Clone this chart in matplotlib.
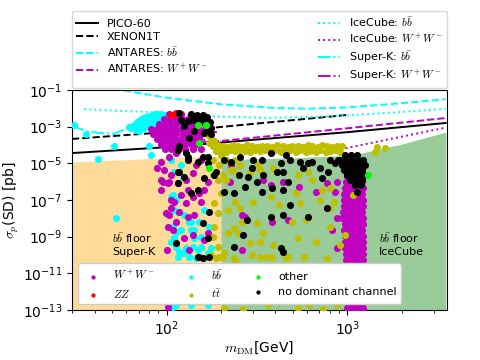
import matplotlib
matplotlib.use("Agg")
import matplotlib.pyplot as plt
import numpy as np

plt.rcParams["mathtext.fontset"] = "cm"

# ---- experimental limits: (mass GeV, log10 sigma_SD / pb) ----
PICO60 = [(30, -4.44), (100, -4.12), (300, -3.72), (1000, -3.3), (3500, -2.8)]
XENON1T = [(30, -3.67), (100, -3.3), (300, -2.85), (1000, -2.36)]
ANTARES_BB = [(45, -0.8), (60, -1.05), (100, -1.42), (200, -1.78), (400, -1.98),
              (600, -2.02), (1000, -1.95), (2000, -1.72), (3500, -1.5)]
ANTARES_WW = [(120, -3.9), (200, -3.78), (291, -3.62), (1040, -3.07), (3500, -2.53)]
ICECUBE_BB = [(35, -2.05), (50, -2.12), (80, -2.2), (130, -2.35), (200, -2.45),
              (350, -2.52), (600, -2.48), (1000, -2.38), (2000, -2.2), (3500, -2.03)]
ICECUBE_WW = [(160, -3.7), (200, -4.15), (250, -4.27), (850, -4.3), (3500, -3.05)]
SUPERK_BB = [(30, -2.96), (36, -3.24), (43, -3.35), (51, -3.4), (59, -3.13), (68, -2.8)]
SUPERK_WW = [(80, -3.1), (150, -3.2), (190, -3.3)]

# ---- bb floors ----
SK_FLOOR = [(30, -4.92), (60, -4.8), (100, -4.7), (200, -4.62)]
IC_FLOOR = [(200, -4.8), (500, -4.7), (1070, -4.55), (1400, -4.29), (2000, -3.95), (3500, -3.3)]

# ---- scan points: (mass GeV, log10 sigma) ----
WW_PTS = [
    (102.6, -2.31), (110.7, -2.31), (119.5, -2.31),
    (96.2, -2.58), (103.9, -2.58), (112.1, -2.58), (121, -2.58), (130.6, -2.58),
    (90.3, -2.85), (97.5, -2.85), (105.2, -2.85), (113.5, -2.85), (122.6, -2.85),
    (132.3, -2.85), (142.8, -2.85),
    (81.6, -3.13), (88, -3.13), (95, -3.13), (102.6, -3.13), (110.7, -3.13), (119.5, -3.13),
    (129, -3.13), (139.2, -3.13), (150.3, -3.13), (162.3, -3.13),
    (83.7, -3.4), (90.3, -3.4), (97.5, -3.4), (105.2, -3.4), (113.5, -3.4), (122.6, -3.4),
    (132.3, -3.4), (142.8, -3.4), (154.2, -3.4),
    (88, -3.67), (95, -3.67), (102.6, -3.67), (110.7, -3.67), (119.5, -3.67), (129, -3.67),
    (139.2, -3.67), (150.3, -3.67),
    (92.6, -3.95), (100, -3.95), (107.9, -3.95), (116.5, -3.95), (125.7, -3.95), (135.7, -3.95),
    (146.5, -3.95),
    (97.5, -4.22), (105.2, -4.22), (113.5, -4.22), (125.7, -4.22), (139.2, -4.22), (154.2, -4.22),
    (92.6, -4.93), (102.6, -4.66), (112.1, -4.44), (96.2, -5.36), (105.2, -5.64), (95, -6.02),
    (102.6, -6.02), (115, -6.07), (127.4, -5.91), (139.2, -5.53), (144.7, -5.09), (154.2, -4.82),
    (130.6, -6.46), (139.2, -6.84), (119.5, -6.73), (127.4, -7.16), (109.3, -7.11), (105.2, -7.44),
    (116.5, -7.66), (112.1, -8.2), (101.3, -8.47), (107.9, -8.64), (130.6, -7.93), (141, -7.82),
    (154.2, -7.11), (150.3, -6.62), (160.2, -6.46), (168.6, -6.02), (139.2, -8.91), (124.1, -9.07),
    (132.3, -9.73), (150.3, -10.11), (160.2, -9.18), (168.6, -8.8), (89.1, -5.26), (92.6, -5.91),
    (101.3, -6.07), (105.2, -7.0), (102.6, -7.82), (101.3, -12.84), (100, -9.73), (92.6, -6.46),
    (98.7, -7.71),
    (223, -6.02), (273, -7.93), (262, -9.73), (343, -5.91), (376, -6.18), (443, -6.02),
    (537, -6.29), (667, -6.56), (776, -6.07), (881, -6.02), (859, -6.56), (776, -7.44),
    (881, -7.98), (827, -8.64), (881, -9.62), (226, -5.09), (262, -7.82), (385, -8.2), (467, -8.09),
]
# dense W+W- band just above 1 TeV
WW_BAND = [
    (990, -5.69), (1050, -5.69), (1130, -5.69), (1200, -5.69),
    (1015, -5.85), (1090, -5.85), (1170, -5.85),
    (985, -6.02), (1055, -6.02), (1135, -6.02), (1210, -6.02),
    (1010, -6.18), (1095, -6.18), (1175, -6.18),
    (975, -6.35), (1050, -6.35), (1140, -6.35), (1215, -6.35),
    (1000, -6.51), (1085, -6.51), (1170, -6.51),
    (960, -6.67), (1040, -6.67), (1120, -6.67), (1210, -6.67),
    (995, -6.84), (1080, -6.84), (1165, -6.84),
    (955, -7.0), (1035, -7.0), (1125, -7.0), (1215, -7.0),
    (1000, -7.16), (1085, -7.16), (1170, -7.16),
    (960, -7.33), (1045, -7.33), (1130, -7.33), (1220, -7.33),
    (990, -7.49), (1075, -7.49), (1165, -7.49),
    (950, -7.66), (1030, -7.66), (1120, -7.66), (1210, -7.66),
    (975, -7.82), (1060, -7.82), (1150, -7.82),
    (935, -7.98), (1010, -7.98), (1090, -7.98), (1170, -7.98), (1225, -7.98),
    (1000, -8.15), (1085, -8.15), (1170, -8.15),
    (965, -8.31), (1045, -8.31), (1130, -8.31), (1215, -8.31),
    (1000, -8.47), (1085, -8.47), (1170, -8.47),
    (960, -8.64), (1040, -8.64), (1125, -8.64), (1210, -8.64),
    (1005, -8.8), (1090, -8.8), (1175, -8.8),
    (970, -8.97), (1050, -8.97), (1135, -8.97), (1220, -8.97),
    (1005, -9.13), (1090, -9.13), (1175, -9.13),
    (965, -9.29), (1045, -9.29), (1130, -9.29), (1215, -9.29),
    (1010, -9.46), (1095, -9.46), (1180, -9.46),
    (975, -9.62), (1055, -9.62), (1140, -9.62), (1220, -9.62),
    (1020, -9.78), (1100, -9.78), (1180, -9.78),
    (980, -9.95), (1060, -9.95), (1140, -9.95), (1215, -9.95),
    (1020, -10.11), (1100, -10.11), (1180, -10.11),
    (985, -10.27), (1060, -10.27), (1140, -10.27), (1220, -10.27),
    (1025, -10.44), (1100, -10.44), (1185, -10.44),
    (990, -10.6), (1065, -10.6), (1145, -10.6), (1225, -10.6),
    (1025, -10.76), (1105, -10.76), (1185, -10.76),
    (990, -10.93), (1065, -10.93), (1145, -10.93), (1225, -10.93),
    (1030, -11.09), (1110, -11.09), (1190, -11.09),
    (995, -11.26), (1070, -11.26), (1150, -11.26), (1225, -11.26),
    (1030, -11.42), (1110, -11.42), (1190, -11.42),
    (995, -11.58), (1070, -11.58), (1150, -11.58), (1225, -11.58),
    (1030, -11.75), (1110, -11.75), (1190, -11.75),
    (995, -11.91), (1070, -11.91), (1150, -11.91), (1225, -11.91),
    (1035, -12.07), (1110, -12.07), (1190, -12.07),
    (1000, -12.24), (1075, -12.24), (1150, -12.24), (1225, -12.24),
    (1035, -12.4), (1110, -12.4), (1190, -12.4),
    (1000, -12.57), (1075, -12.57), (1150, -12.57), (1225, -12.57),
    (1035, -12.73), (1110, -12.73), (1190, -12.73),
    (1000, -12.89), (1075, -12.89), (1150, -12.89), (1225, -12.89),
]
ZZ_PTS = [(105.2, -2.36), (113.5, -2.25)]
BB_PTS = [
    (63.2, -3.07), (65.7, -2.91), (68.3, -2.75), (71, -2.64), (73.8, -2.53), (76.6, -2.47),
    (79.5, -2.42), (82.6, -2.36), (85.8, -2.31), (89.1, -2.31), (92.6, -2.31), (96.2, -2.36),
    (67.4, -3.18), (71.9, -2.96), (76.6, -2.8), (81.6, -2.69), (86.9, -2.58), (92.6, -2.53),
    (70.1, -3.24), (78.5, -2.91), (84.7, -2.8), (90.3, -2.69), (98.7, -2.47), (101.3, -2.64),
    (61.6, -3.02), (74.6, -3.07),
    (30.6, -2.91), (35.7, -3.4), (51, -4.06), (41.6, -4.77), (79.5, -4.06), (81.6, -4.55),
    (52.4, -7.98), (105.2, -4.82), (119.5, -5.09),
    (105.2, -6.84), (112.1, -7.0), (109.3, -7.55), (115, -7.66), (124.1, -7.82), (107.9, -8.47),
    (112.1, -8.75), (119.5, -8.64), (132.3, -8.2), (135.7, -8.64), (109.3, -9.07), (105.2, -9.29),
    (112.1, -9.57), (127.4, -9.62), (139.2, -9.57), (148.4, -9.73), (122.6, -9.89), (132.3, -10.11),
    (115, -10.11), (160.2, -7.55), (150.3, -8.2), (154.2, -9.02), (154.2, -9.57), (168.6, -9.89),
    (175.2, -9.62), (141, -9.07), (170.8, -8.47), (144.7, -10.17), (116.5, -9.84), (109.3, -5.47),
    (122.6, -5.75), (107.9, -6.73), (135.7, -8.2), (141, -8.64),
    (107.9, -12.84), (112.1, -12.73), (135.7, -12.73), (168.6, -12.73),
]
TT_PTS = [
    # band under the limits
    (179.8, -4.06), (191.6, -4.0), (204, -4.06), (217.5, -4.1), (232, -4.02), (247, -4.06),
    (262, -4.1), (280, -4.0), (298, -4.06), (318, -4.1), (339, -4.03), (361, -4.06),
    (385, -4.1), (410, -4.0), (438, -4.06), (467, -4.1), (497, -4.03), (530, -4.06),
    (565, -4.12), (602, -4.02), (641, -4.06), (684, -4.1), (728, -4.0), (776, -4.06),
    (827, -4.1), (881, -4.04), (937, -4.08),
    (186.6, -4.33), (199.2, -4.28), (212, -4.36), (226, -4.3), (240, -4.35), (256, -4.28),
    (273, -4.33), (291, -4.38), (310, -4.3), (330, -4.35), (352, -4.28), (376, -4.36),
    (400, -4.3), (427, -4.4), (455, -4.33), (484, -4.28), (517, -4.36), (550, -4.3),
    (587, -4.4), (625, -4.32), (667, -4.36), (710, -4.3), (757, -4.38), (806, -4.33),
    (859, -4.3), (914, -4.36),
    (168.6, -3.45), (175.2, -3.62), (182.1, -3.78), (170.8, -3.89), (186.6, -4.16), (199.2, -4.55),
    (212, -4.82), (194.2, -5.09), (226, -5.36), (256, -5.09), (291, -5.47), (322, -5.09),
    (179.8, -4.82), (204, -5.64), (240, -4.82),
    (212, -5.91), (232, -5.36), (240, -7.11), (256, -7.44), (217.5, -7.55), (235, -8.53),
    (247, -8.8), (262, -8.2), (302, -7.11), (318, -8.26), (343, -8.8), (330, -9.29), (390, -9.46),
    (361, -10.11), (298, -10.0), (467, -10.11), (530, -9.07), (587, -8.09), (667, -9.29),
    (550, -7.16), (497, -8.2), (517, -6.62), (376, -6.84), (416, -7.27), (806, -8.47),
    (806, -7.44), (710, -7.0), (728, -6.46), (806, -6.35), (838, -7.11), (975, -8.91),
    (914, -9.46), (1080, -6.73), (291, -9.35), (217.5, -8.8), (206.6, -9.89), (240, -10.27),
    (330, -5.36), (390, -5.26), (530, -5.64), (602, -5.47), (641, -5.91), (1430, -4.38),
    (1620, -4.16), (1460, -4.11),
    (179.8, -5.64), (191.6, -5.91), (199.2, -6.62), (182.1, -7.16), (191.6, -7.71), (182.1, -8.47),
    (179.8, -9.02), (191.6, -9.57), (175.2, -10.0), (204, -10.11), (186.6, -10.17),
    (206.6, -12.89), (266, -12.95), (366, -12.73), (530, -12.89), (610, -12.73), (737, -12.95),
    (881, -12.73), (194.2, -10.11), (235, -10.17), (330, -10.11), (385, -10.11), (455, -10.17),
    (776, -10.17), (572, -10.11),
]
OTHER_PTS = [(148.4, -2.91), (164.4, -2.91), (150.3, -3.89), (170.8, -5.26), (1307, -5.64)]
NODOM_PTS = [
    (119.5, -2.64), (130.6, -2.69), (139.2, -2.64), (148.4, -2.69),
    (154.2, -2.53), (160.2, -2.8), (168.6, -2.91), (170.8, -3.18), (160.2, -3.35), (141, -3.24),
    (124.1, -2.96), (132.3, -3.62), (116.5, -4.06),
    (144.7, -2.53), (158.2, -2.64), (168.6, -3.07), (115, -4.27), (127.4, -4.44),
    (130.6, -4.82), (115, -5.47), (148.4, -4.93), (168.6, -4.66), (186.6, -5.47),
    (116.5, -2.25), (135.7, -2.31), (146.5, -2.36),
    (158.2, -2.36), (166.5, -2.47), (173, -2.75), (175.2, -3.07), (175.2, -3.4),
    (116.5, -5.47), (124.1, -5.75), (115, -6.07), (148.4, -6.46), (170.8, -7.66), (158.2, -8.26),
    (168.6, -9.07), (112.1, -9.35), (158.2, -10.17), (148.4, -10.11), (170.8, -10.11),
    (130.6, -4.66), (158.2, -4.66), (168.6, -4.98), (160.2, -5.8), (135.7, -6.62), (182.1, -5.64),
    (206.6, -4.82), (226, -4.93), (256, -4.66), (302, -4.82), (339, -4.82), (376, -4.44),
    (455, -4.55), (484, -4.82), (550, -4.93), (602, -4.98), (641, -4.93), (565, -5.26),
    (427, -4.98), (438, -5.47), (410, -5.47), (343, -5.64), (298, -5.26), (283, -5.75),
    (250, -5.64), (318, -6.02), (273, -6.29), (235, -6.62), (339, -6.56), (385, -6.35),
    (438, -6.46), (467, -6.02), (728, -5.8), (786, -5.47), (806, -4.82), (893, -4.82),
    (710, -5.26), (484, -7.27), (438, -7.82), (376, -7.93), (602, -7.93), (280, -8.09),
    (776, -7.44), (427, -9.62), (443, -9.84), (235, -9.57), (266, -8.91), (206.6, -6.56),
    # cluster near 1 TeV
    (975, -4.55), (1053, -4.55), (1137, -4.55),
    (914, -4.82), (987, -4.82), (1066, -4.82), (1151, -4.82), (1227, -4.82),
    (937, -5.09), (1013, -5.09), (1094, -5.09), (1181, -5.09), (1259, -5.09),
    (961, -5.36), (1040, -5.36), (1122, -5.36), (1211, -5.36),
    (1000, -5.64), (1080, -5.64), (1166, -5.64), (1243, -5.64),
    (1040, -5.91), (1122, -5.91), (1211, -5.91),
    (1108, -6.18), (1196, -6.18), (1137, -6.56), (859, -4.98),
]


def split(pts):
    a = np.array(pts, dtype=float)
    return a[:, 0], 10.0 ** a[:, 1]


fig = plt.figure(figsize=(4.8, 3.6), dpi=100)
ax = fig.add_axes([0.15, 0.139, 0.781, 0.611])
ax.set_xscale("log")
ax.set_yscale("log")

# floors
m, s = split(SK_FLOOR)
ax.fill_between(m, 1e-13, s, color="orange", alpha=0.4, lw=0, zorder=0)
m, s = split(IC_FLOOR)
ax.fill_between(m, 1e-13, s, color="green", alpha=0.4, lw=0, zorder=0)
ax.text(50, 10 ** -9.4, r"$b\bar{b}$ floor" + "\nSuper-K", fontsize=8, va="center", ha="left")
ax.text(1500, 10 ** -9.4, r"$b\bar{b}$ floor" + "\nIceCube", fontsize=8, va="center", ha="left")

# limits
line_specs = [
    (PICO60, "k", "-", "PICO-60"),
    (XENON1T, "k", "--", "XENON1T"),
    (ANTARES_BB, "cyan", "--", r"ANTARES: $b\bar{b}$"),
    (ANTARES_WW, "m", "--", r"ANTARES: $W^+W^-$"),
    (ICECUBE_BB, "cyan", ":", r"IceCube: $b\bar{b}$"),
    (ICECUBE_WW, "m", ":", r"IceCube: $W^+W^-$"),
    (SUPERK_BB, "cyan", "-.", r"Super-K: $b\bar{b}$"),
    (SUPERK_WW, "m", "-.", r"Super-K: $W^+W^-$"),
]
line_handles = []
for pts, c, ls, lab in line_specs:
    m, s = split(pts)
    (h,) = ax.plot(m, s, color=c, ls=ls, lw=1.4, label=lab, zorder=2)
    line_handles.append(h)

# scan points
kw = dict(s=26, lw=0, zorder=3)
m, s = split(BB_PTS)
h_bb = ax.scatter(m, s, c="cyan", label=r"$b\bar{b}$", **kw)
m, s = split(WW_PTS + WW_BAND)
h_ww = ax.scatter(m, s, c="m", label=r"$W^+W^-$", **kw)
m, s = split(TT_PTS)
h_tt = ax.scatter(m, s, c="y", label=r"$t\bar{t}$", **kw)
m, s = split(ZZ_PTS)
h_zz = ax.scatter(m, s, c="red", label=r"$ZZ$", **kw)
m, s = split(NODOM_PTS)
h_nd = ax.scatter(m, s, c="k", label="no dominant channel", **kw)
m, s = split(OTHER_PTS)
h_ot = ax.scatter(m, s, c="lime", label="other", **kw)

ax.set_xlim(30, 3550)
ax.set_ylim(1e-13, 1e-1)
ax.set_yticks([10.0 ** e for e in range(-13, 0, 2)])
ax.yaxis.set_minor_locator(matplotlib.ticker.NullLocator())
ax.set_xlabel(r"$m_\text{DM}$[GeV]", fontsize=10, labelpad=1)
ax.set_ylabel(r"$\sigma_p$(SD) [pb]", fontsize=10, labelpad=1)

fig.legend(handles=line_handles, ncol=2, mode="expand", loc="lower left",
           bbox_to_anchor=(0.15, 0.755, 0.781, 0.2), fontsize=8, borderaxespad=0,
           labelspacing=0.3, borderpad=0.35)
ax.legend(handles=[h_ww, h_zz, h_bb, h_tt, h_ot, h_nd], ncol=3, loc="lower left",
          fontsize=8, markerscale=0.6, columnspacing=2.2, framealpha=1.0)

fig.savefig("out.png", dpi=100)
